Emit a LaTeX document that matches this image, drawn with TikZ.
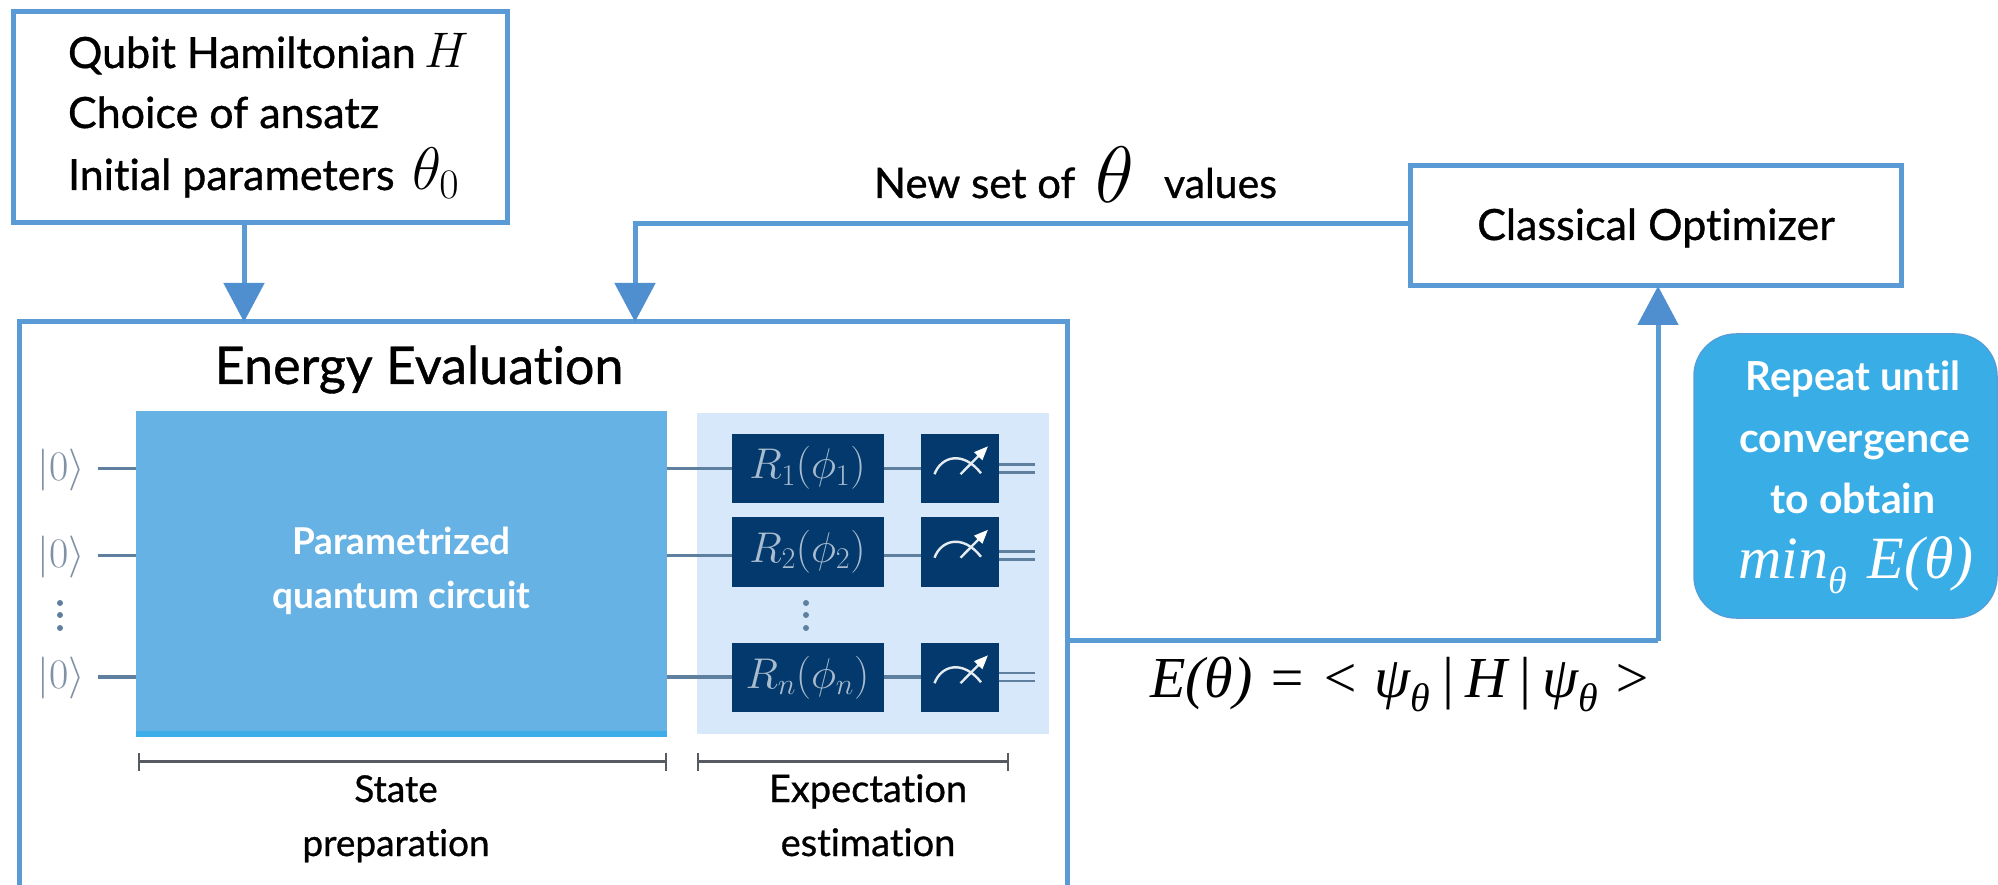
\documentclass[tikz,border=0pt]{standalone}
\usepackage{fix-cm}
\usepackage{fontspec}
\setmainfont{Lato}[Ligatures=NoCommon,FakeBold=0.8]
\newfontfamily\whitefont{Lato}[Ligatures=NoCommon]
\newfontfamily\formfont{Liberation Serif}
\usetikzlibrary{arrows.meta}
\definecolor{frameblue}{HTML}{5B9BD5}
\definecolor{tipblue}{HTML}{4F8FCF}
\definecolor{blockblue}{HTML}{66B2E5}
\definecolor{blockedge}{HTML}{3DAEEA}
\definecolor{panelblue}{HTML}{D6E8FA}
\definecolor{gateblue}{HTML}{03396C}
\definecolor{gatetext}{HTML}{A9BCCF}
\definecolor{wire}{HTML}{5F7F9F}
\definecolor{ketgray}{HTML}{8090A6}
\definecolor{repeatblue}{HTML}{38ADE6}
\definecolor{spanline}{HTML}{555B60}
\newcommand{\fs}[1]{\fontsize{#1}{#1}\selectfont}
\tikzset{
  frame/.style={draw=frameblue,line width=5pt,fill=white,inner sep=0pt,outer sep=0pt,anchor=north west},
  conn/.style={draw=frameblue,line width=5pt},
  tipped/.style={conn,-{Triangle[length=39pt,width=40pt,color=tipblue]}},
  label/.style={inner sep=0pt,outer sep=0pt,anchor=base,text=black},
  labelw/.style={inner sep=0pt,outer sep=0pt,anchor=base west,text=black},
  gate/.style={fill=gateblue,inner sep=0pt,outer sep=0pt,anchor=north west,minimum height=69.5pt,text=gatetext},
  rgate/.style={gate,minimum width=152pt},
  mgate/.style={gate,minimum width=77.5pt},
  wireln/.style={draw=wire,line width=3.5pt},
  dblwire/.style={draw=wire,line width=2.5pt},
  ket/.style={inner sep=0pt,outer sep=0pt,text=ketgray,anchor=center},
  span/.style={draw=spanline,line width=2.4pt,{|[width=18pt,length=2pt]}-{|[width=18pt,length=2pt]}},
  dotted dots/.style={fill=#1,circle,inner sep=0pt,minimum size=6pt},
  needle/.style={draw=white!90!gateblue,line width=2.4pt,-{Triangle[length=14pt,width=11pt,color=white]}},
  dial/.style={draw=white!90!gateblue,line width=2.4pt},
}
\newcommand{\dialin}[1]{%
  \draw[dial] ([shift={(13.5,6)}]#1.west) .. controls ([shift={(20,-12)}]#1.west) and ([shift={(42,-18)}]#1.west) .. ([shift={(60,5)}]#1.west);
  \draw[needle] ([shift={(39.5,6)}]#1.west) -- ([shift={(67,-22)}]#1.west);
}
\begin{document}
\begin{tikzpicture}[x=1pt,y=-1pt]
\useasboundingbox (0,0) rectangle (1998,885);
\clip (0,0) rectangle (1998,885);
\fill[white] (0,0) rectangle (1998,885);

% frames
\node[frame,minimum width=493.5pt,minimum height=211pt] (input) at (13.5,12) {};
\node[frame,minimum width=1048pt,minimum height=700pt] (energy) at (19,322) {};
\node[frame,minimum width=491pt,minimum height=120pt] (optimizer) at (1410,166) {};
\node[draw=frameblue!70!repeatblue,line width=1.5pt,fill=repeatblue,rounded corners=42pt,inner sep=0pt,outer sep=0pt,anchor=north west,minimum width=303pt,minimum height=284pt] (repeat) at (1694,334) {};

% circuit
\node[fill=blockblue,inner sep=0pt,outer sep=0pt,anchor=north west,minimum width=531pt,minimum height=320pt] (block) at (136,411) {};
\fill[blockedge] (block.south west) rectangle ([yshift=-6pt]block.south east);
\node[fill=panelblue,inner sep=0pt,outer sep=0pt,anchor=north west,minimum width=352pt,minimum height=321pt] (panel) at (697,413) {};

\node[rgate] (r1) at (731.5,433.5) {\fs{43}$R_1(\phi_1)$};
\node[rgate] (r2) at (731.5,517) {\fs{43}$R_2(\phi_2)$};
\node[rgate] (r3) at (731.5,642.5) {\fs{43}$R_n(\phi_n)$};
\node[mgate] (m1) at (921,433.5) {};
\node[mgate] (m2) at (921,517) {};
\node[mgate] (m3) at (921,642.5) {};
\dialin{m1}\dialin{m2}\dialin{m3}

\node[ket] (k1) at (61,470) {\fs{42}$|0\rangle$};
\node[ket] (k2) at (61,557) {\fs{42}$|0\rangle$};
\node[ket] (k3) at (61,678) {\fs{42}$|0\rangle$};
\coordinate (w1) at (98,468.5);
\coordinate (w2) at (98,555.5);
\coordinate (w3) at (98,677);

\foreach \i in {1,2,3}{
  \draw[wireln] (w\i) -- (w\i -| block.west);
  \draw[wireln] (w\i -| block.east) -- (w\i -| r\i.west);
  \draw[wireln] (w\i -| r\i.east) -- (w\i -| m\i.west);
  \coordinate (e\i) at (1035,0);
  \draw[dblwire] ([yshift=-4pt]w\i -| m\i.east) -- ([yshift=-4pt]w\i -| e\i);
  \draw[dblwire] ([yshift=4pt]w\i -| m\i.east) -- ([yshift=4pt]w\i -| e\i);
}
\node[dotted dots=wire] (dl1) at (60,603) {};
\node[dotted dots=wire] (dl2) at (60,615) {};
\node[dotted dots=wire] (dl3) at (60,628) {};
\node[dotted dots=wire] (dr1) at (806,603) {};
\node[dotted dots=wire] (dr2) at (806,615) {};
\node[dotted dots=wire] (dr3) at (806,628) {};

% spans
\coordinate (sa) at (138,761.5);
\coordinate (sb) at (667,761.5);
\coordinate (sc) at (697,761.5);
\coordinate (sd) at (1009,761.5);
\draw[span] (sa) -- (sb);
\draw[span] (sc) -- (sd);

% connectors
\coordinate (inA) at (244,322);
\coordinate (inB) at (635,322);
\coordinate (elbowB) at (635,224);
\coordinate (outE) at (1658,640.5);
\draw[tipped] (input.south -| inA) -- (inA);
\draw[tipped] (optimizer.west |- elbowB) -- (elbowB) -- (inB);
\draw[conn] (energy.east |- outE) -- (outE);
\draw[tipped] (outE) -- (outE |- optimizer.south);

% text
\node[labelw] (t1) at (68,68) {\fs{43}Qubit Hamiltonian};
\node[labelw] (t1b) at (424,68) {\fs{50}$H$};
\node[labelw] (t2) at (68,128) {\fs{43}Choice of ansatz};
\node[labelw] (t3) at (68,190) {\fs{43}Initial parameters};
\node[labelw] (t3b) at (412,190) {\fs{60}$\theta_0$};
\node[label] (title) at (419,384) {\fs{52}Energy Evaluation};
\node[label,text=white] (pq1) at (401.5,554) {\fs{37}\whitefont\bfseries Parametrized};
\node[label,text=white] (pq2) at (401.5,608) {\fs{37}\whitefont\bfseries quantum circuit};
\node[label] (s1) at (396,802) {\fs{37}State};
\node[label] (s2) at (396,856) {\fs{37}preparation};
\node[label] (x1) at (868,802) {\fs{38}Expectation};
\node[label] (x2) at (868,856) {\fs{38}estimation};
\node[label] (opt) at (1656,240) {\fs{43}Classical Optimizer};
\node[labelw] (ns) at (874,198) {\fs{42}New set of};
\node[labelw] (th) at (1095,203) {\fs{80}$\theta$};
\node[labelw] (vl) at (1164,198) {\fs{41}values};
\node[label,text=white] (r1t) at (1853,391) {\fs{40}\whitefont\bfseries Repeat until};
\node[label,text=white] (r2t) at (1855,452) {\fs{41}\whitefont\bfseries convergence};
\node[label,text=white] (r3t) at (1853,513) {\fs{41}\whitefont\bfseries to obtain};
\node[label,text=white] (r4t) at (1856,578) {\fs{60}\formfont\itshape min\raisebox{-0.25em}{\fs{38}θ}\hspace{0.35em}E(θ)};
\node[labelw] (form) at (1150,697) {\fs{58}\formfont\itshape E(θ) = < ψ\raisebox{-0.25em}{\fs{40}θ}\,|\,H\,|\,ψ\raisebox{-0.25em}{\fs{40}θ} >};
\end{tikzpicture}
\end{document}
